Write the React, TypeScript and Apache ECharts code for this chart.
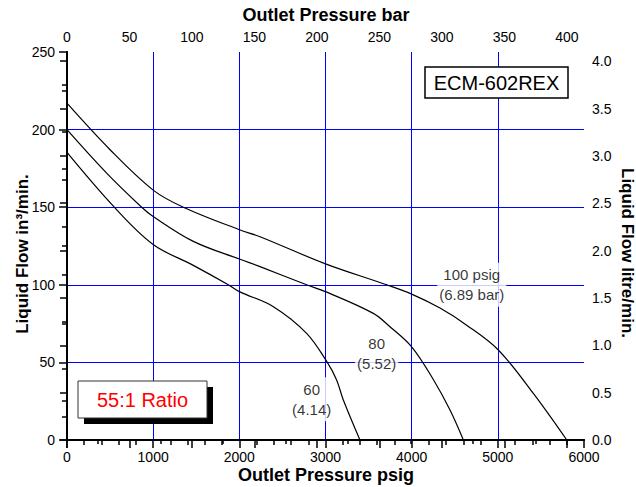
import React, { useEffect, useRef } from 'react';
import * as echarts from 'echarts';

// Unit conversions for the secondary axes
const PSI_PER_BAR = 14.5038;
const LPM_PER_CIPM = 0.016387;

const PSIG_MAX = 6000;
const FLOW_MAX = 250;

// Pump curves: [outlet pressure psig, liquid flow in³/min]
const curve100psig: [number, number][] = [
  [0, 217], [500, 187], [1000, 161], [1350, 150], [2000, 135.5], [2240, 131],
  [3000, 113.5], [3710, 100], [4000, 94], [4329, 85], [4638, 74], [5006, 58],
  [5412, 30], [5800, 0],
];
const curve80psig: [number, number][] = [
  [0, 200], [460, 172], [867, 150], [1000, 144], [1466, 128], [2000, 116.6],
  [2240, 111.7], [2781, 100], [3000, 95.6], [3555, 81.6], [3748, 73], [4000, 60],
  [4251, 39], [4445, 19.3], [4600, 0],
];
const curve60psig: [number, number][] = [
  [0, 185.3], [549, 150], [1000, 126], [1466, 112.5], [1872, 100], [2000, 95.6],
  [2395, 85.9], [2781, 68.7], [3021, 50], [3129, 38.7], [3207, 25.8], [3400, 0],
];

// Curve annotations (air drive pressure) anchored in psig / in³/min
const curveLabelPoints: [number, number][] = [[4697, 100], [3594, 56], [2840, 26.2]];
const curveLabelTexts = ['100 psig\n(6.89 bar)', '80\n(5.52)', '60\n(4.14)'];

// Tick values for the secondary axes
const barMajor = [0, 50, 100, 150, 200, 250, 300, 350, 400];
const barMinor = [25, 75, 125, 175, 225, 275, 325, 375];
const lpmMajor = [0, 0.5, 1, 1.5, 2, 2.5, 3, 3.5, 4];
const lpmMinor = [0.25, 0.75, 1.25, 1.75, 2.25, 2.75, 3.25, 3.75];

const FONT = '"Liberation Sans", Arial, Helvetica, sans-serif';
const BLACK = '#000';
const GRID_BLUE = '#0000ff';

const axisLineStyle = { show: true, lineStyle: { color: BLACK, width: 2 } };
const tickStyle = { color: BLACK, width: 1.5 };
const labelStyle = { color: BLACK, fontSize: 14, fontFamily: FONT };
const gridLines = { show: true, showMinLine: false, showMaxLine: false, lineStyle: { color: GRID_BLUE, width: 1 } };
const plain = (v: number) => String(v);

const plotRect = { left: 67, right: 52, top: 52, bottom: 47, containLabel: false, outerBoundsMode: 'none' };

function curveSeries(name: string, data: [number, number][]) {
  return {
    name,
    type: 'line',
    xAxisIndex: 0,
    yAxisIndex: 0,
    data,
    smooth: 0.35,
    showSymbol: false,
    symbol: 'none',
    silent: true,
    lineStyle: { color: BLACK, width: 1.2 },
    z: 3,
  };
}

export default function App() {
  const ref = useRef<HTMLDivElement>(null);

  useEffect(() => {
    document.body.style.margin = '0';
    const chart = echarts.init(ref.current!, null, { renderer: 'svg' });

    const option: any = {
      animation: false,
      backgroundColor: '#fff',
      // grid 1 overlays grid 0 and only carries the minor ticks of the secondary scales
      grid: [{ ...plotRect }, { ...plotRect }],
      xAxis: [
        {
          type: 'value',
          gridIndex: 0,
          position: 'bottom',
          min: 0,
          max: PSIG_MAX,
          interval: 1000,
          axisLine: axisLineStyle,
          axisTick: { show: true, length: 8, lineStyle: tickStyle },
          minorTick: { show: true, splitNumber: 5, length: 5, lineStyle: tickStyle },
          splitLine: gridLines,
          axisLabel: { ...labelStyle, margin: 10, formatter: plain },
          z: 1,
        },
        {
          type: 'value',
          gridIndex: 0,
          position: 'top',
          min: 0,
          max: PSIG_MAX / PSI_PER_BAR,
          interval: 50,
          axisLine: axisLineStyle,
          axisTick: { show: true, inside: true, length: 8, lineStyle: tickStyle, customValues: barMajor },
          splitLine: { show: false },
          axisLabel: { ...labelStyle, margin: 8, customValues: barMajor, formatter: plain },
          z: 5,
        },
        {
          type: 'value',
          gridIndex: 1,
          position: 'top',
          min: 0,
          max: PSIG_MAX / PSI_PER_BAR,
          axisLine: { show: false },
          axisTick: { show: true, inside: true, length: 4, lineStyle: tickStyle, customValues: barMinor },
          splitLine: { show: false },
          axisLabel: { show: false },
          z: 5,
        },
      ],
      yAxis: [
        {
          type: 'value',
          gridIndex: 0,
          position: 'left',
          min: 0,
          max: FLOW_MAX,
          interval: 50,
          axisLine: axisLineStyle,
          axisTick: { show: true, length: 8, lineStyle: tickStyle },
          minorTick: { show: true, splitNumber: 2, length: 5, lineStyle: tickStyle },
          splitLine: gridLines,
          axisLabel: { ...labelStyle, margin: 12, formatter: plain },
          z: 1,
        },
        {
          type: 'value',
          gridIndex: 0,
          position: 'right',
          min: 0,
          max: FLOW_MAX * LPM_PER_CIPM,
          interval: 0.5,
          axisLine: axisLineStyle,
          axisTick: { show: true, inside: true, length: 7, lineStyle: tickStyle, customValues: lpmMajor },
          splitLine: { show: false },
          axisLabel: {
            ...labelStyle,
            margin: 8,
            customValues: lpmMajor,
            formatter: (v: number) => v.toFixed(1),
          },
          z: 5,
        },
        {
          type: 'value',
          gridIndex: 1,
          position: 'right',
          min: 0,
          max: FLOW_MAX * LPM_PER_CIPM,
          axisLine: { show: false },
          axisTick: { show: true, inside: true, length: 5, lineStyle: tickStyle, customValues: lpmMinor },
          splitLine: { show: false },
          axisLabel: { show: false },
          z: 5,
        },
      ],
      series: [
        curveSeries('100 psig', curve100psig),
        curveSeries('80 psig', curve80psig),
        curveSeries('60 psig', curve60psig),
        {
          name: 'curve labels',
          type: 'scatter',
          xAxisIndex: 0,
          yAxisIndex: 0,
          silent: true,
          symbolSize: 0,
          itemStyle: { color: 'rgba(0,0,0,0)' },
          data: curveLabelPoints.map((p, i) => ({ value: p, name: curveLabelTexts[i] })),
          label: {
            show: true,
            position: 'inside',
            formatter: '{b}',
            color: BLACK,
            fontSize: 15,
            fontFamily: FONT,
            lineHeight: 20,
            align: 'center',
            backgroundColor: '#fff',
            padding: [2, 2],
          },
          z: 2,
        },
      ],
      graphic: [
        {
          type: 'text',
          x: 326,
          y: 15,
          z: 100,
          style: { text: 'Outlet Pressure bar', font: `bold 18px ${FONT}`, fill: BLACK, textAlign: 'center', textVerticalAlign: 'middle' },
        },
        {
          type: 'text',
          x: 326,
          y: 475,
          z: 100,
          style: { text: 'Outlet Pressure psig', font: `bold 18px ${FONT}`, fill: BLACK, textAlign: 'center', textVerticalAlign: 'middle' },
        },
        {
          type: 'text',
          x: 22,
          y: 254,
          rotation: Math.PI / 2,
          z: 100,
          style: { text: 'Liquid Flow in³/min.', font: `bold 17px ${FONT}`, fill: BLACK, textAlign: 'center', textVerticalAlign: 'middle' },
        },
        {
          type: 'text',
          x: 627,
          y: 253,
          rotation: -Math.PI / 2,
          z: 100,
          style: { text: 'Liquid Flow litre/min.', font: `bold 17px ${FONT}`, fill: BLACK, textAlign: 'center', textVerticalAlign: 'middle' },
        },
        // model tag
        {
          type: 'rect',
          z: 100,
          shape: { x: 425, y: 67, width: 143, height: 31 },
          style: { fill: '#fff', stroke: BLACK, lineWidth: 1.5 },
        },
        {
          type: 'text',
          x: 496.5,
          y: 82.5,
          z: 101,
          style: { text: 'ECM-602REX', font: `20px ${FONT}`, fill: BLACK, textAlign: 'center', textVerticalAlign: 'middle' },
        },
        // ratio tag with drop shadow
        {
          type: 'rect',
          z: 100,
          shape: { x: 84, y: 387, width: 129, height: 37 },
          style: { fill: BLACK },
        },
        {
          type: 'rect',
          z: 101,
          shape: { x: 78, y: 381, width: 129, height: 37 },
          style: { fill: '#fff', stroke: '#333', lineWidth: 1 },
        },
        {
          type: 'text',
          x: 142.5,
          y: 400,
          z: 102,
          style: { text: '55:1 Ratio', font: `20px ${FONT}`, fill: '#ff0000', textAlign: 'center', textVerticalAlign: 'middle' },
        },
      ],
    };

    chart.setOption(option);
    return () => chart.dispose();
  }, []);

  return <div ref={ref} style={{ width: 636, height: 487 }} />;
}
